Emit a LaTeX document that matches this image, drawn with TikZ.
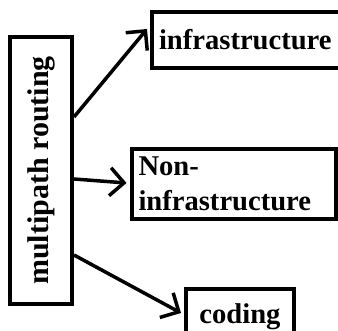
\documentclass[tikz,border=0pt]{standalone}
\usepackage{fontspec}
\setmainfont{Liberation Serif}
\usetikzlibrary{arrows.meta, positioning, calc}

\begin{document}
\begin{tikzpicture}[
  x=1pt, y=1pt,
  every node/.style={font=\fontsize{28.6}{35}\selectfont\bfseries},
  box/.style={draw, line width=4pt, inner sep=0pt},
  leaf/.style={box, align=left, inner xsep=7pt, inner ysep=4pt},
  arrow/.style={-{Straight Barb[length=14pt, width=28pt]}, line width=3.5pt},
]
\clip (0,0) rectangle (338,331);
\useasboundingbox (0,0) rectangle (338,331);

\node[box, minimum width=62pt, minimum height=267pt,
      font=\fontsize{30}{35}\selectfont\bfseries] (route) at (41,160.5)
  {\rotatebox{90}{multipath routing}};
\node[leaf, minimum height=56pt, text width=178pt] (infra) at (248,291)
  {infrastructure};
\node[leaf, minimum height=70pt, text width=190pt] (noninfra) at (233.5,147)
  {Non-\\infrastructure};
\node[box, minimum width=108pt, minimum height=56pt] (coding) at (240,14)
  {coding};

%% branches
\draw[arrow] ([yshift=53.5pt]route.east) -- ([xshift=-3pt,yshift=11pt]infra.west);
\draw[arrow] ([yshift=-8.5pt]route.east) -- ([xshift=-3pt,yshift=1pt]noninfra.west);
\draw[arrow] ([yshift=-84.5pt]route.east) -- ([xshift=-3pt,yshift=4pt]coding.west);

\end{tikzpicture}
\end{document}
